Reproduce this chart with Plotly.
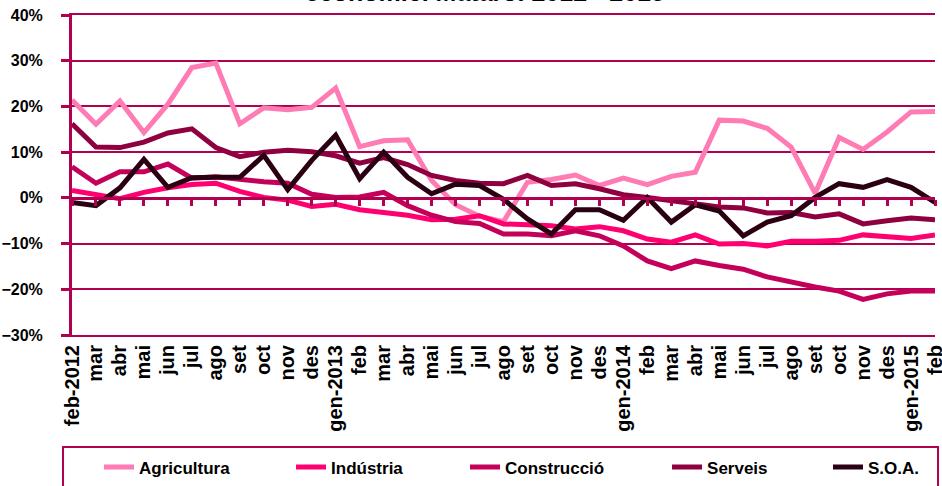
import plotly.graph_objects as go

# month labels feb-2012 .. feb-2015
months = ["feb-2012", "mar", "abr", "mai", "jun", "jul", "ago", "set", "oct", "nov", "des",
          "gen-2013", "feb", "mar", "abr", "mai", "jun", "jul", "ago", "set", "oct", "nov", "des",
          "gen-2014", "feb", "mar", "abr", "mai", "jun", "jul", "ago", "set", "oct", "nov", "des",
          "gen-2015", "feb"]
x_idx = list(range(len(months)))

agricultura = [21.4, 16.1, 21.2, 14.3, 20.5, 28.5, 29.5, 16.2, 19.7, 19.3, 19.8, 24.0, 11.2,
               12.5, 12.7, 3.8, -1.5, -4.0, -5.2, 3.4, 4.0, 5.0, 2.7, 4.3, 2.9, 4.7, 5.6,
               17.0, 16.8, 15.2, 11.1, 1.0, 13.2, 10.6, 14.4, 18.8, 18.9]
industria = [1.6, 0.7, -0.2, 1.2, 2.2, 2.9, 3.2, 1.4, 0.1, -0.5, -1.9, -1.4, -2.6,
             -3.2, -3.8, -4.8, -4.7, -3.9, -5.7, -5.9, -6.1, -6.8, -6.3, -7.2, -9.0, -9.7, -8.1,
             -10.1, -10.0, -10.5, -9.5, -9.5, -9.3, -8.1, -8.6, -8.9, -8.1]
construccio = [6.8, 3.2, 5.7, 5.7, 7.4, 4.3, 4.6, 4.0, 3.5, 3.2, 0.8, 0.1, 0.2,
               1.2, -1.7, -3.8, -5.2, -5.6, -7.9, -7.9, -8.3, -7.2, -8.3, -10.5, -13.8, -15.5, -13.8,
               -14.8, -15.6, -17.3, -18.5, -19.5, -20.4, -22.2, -21.0, -20.4, -20.4]
serveis = [16.2, 11.1, 11.0, 12.2, 14.2, 15.1, 11.0, 9.0, 10.0, 10.4, 10.1, 9.2, 7.6,
           8.8, 7.3, 4.9, 3.8, 3.2, 3.1, 4.9, 2.7, 3.1, 2.0, 0.7, 0.1, -0.6, -1.2,
           -2.0, -2.2, -3.3, -3.2, -4.2, -3.5, -5.7, -5.0, -4.4, -4.8]
soa = [-1.0, -1.7, 2.2, 8.4, 2.3, 4.4, 4.5, 4.5, 9.3, 1.8, 8.2, 13.7, 4.2,
       10.0, 4.5, 0.9, 3.0, 2.7, -0.3, -4.6, -7.9, -2.6, -2.6, -4.9, 0.1, -5.3, -1.5,
       -2.9, -8.3, -5.3, -3.9, 0.1, 3.1, 2.3, 4.0, 2.3, -1.0]

series = [
    ("Agricultura", agricultura, "#ff7bb4"),
    ("Indústria", industria, "#ff0070"),
    ("Construcció", construccio, "#c4005a"),
    ("Serveis", serveis, "#8e003f"),
    ("S.O.A.", soa, "#2a0012"),
]
# one legend per series so each entry sits where the original puts it
legend_x = [0.0313, 0.2538, 0.4554, 0.6895, 0.8760]

axis_color = "#b0004f"
font_family = "Liberation Sans, Arial, sans-serif"

fig = go.Figure()
legends = {}
for i, (name, vals, color) in enumerate(series):
    key = "legend" if i == 0 else f"legend{i + 1}"
    fig.add_trace(go.Scatter(x=x_idx, y=vals, name=name, mode="lines", legend=key,
                             line=dict(color=color, width=5)))
    legends[key] = dict(orientation="h", x=legend_x[i], xanchor="left",
                        y=-0.358, yanchor="top", borderwidth=0,
                        bgcolor="rgba(0,0,0,0)",
                        font=dict(size=17, weight="bold", family=font_family))

# invisible helper trace so the zero-crossing axis gets drawn
fig.add_trace(go.Scatter(x=x_idx, y=soa, xaxis="x2", mode="lines",
                         line=dict(width=0), showlegend=False, hoverinfo="skip"))

fig.update_layout(
    width=942, height=486,
    margin=dict(l=72, r=7, t=15, b=151, autoexpand=False),
    plot_bgcolor="white", paper_bgcolor="white",
    font=dict(family=font_family, color="black"),
    showlegend=True,
    xaxis=dict(range=[0, 36], tickmode="array", tickvals=x_idx, ticktext=months,
               tickangle=-90, showgrid=False, zeroline=False,
               showline=True, mirror=True, linecolor=axis_color, linewidth=2, ticks="",
               automargin=False, ticklabeloverflow="allow",
               tickfont=dict(size=20, weight="bold")),
    xaxis2=dict(range=[0, 36], overlaying="x", anchor="free", position=3 / 7,
                tickmode="array", tickvals=x_idx, showticklabels=False,
                showgrid=False, zeroline=False, showline=True, automargin=False,
                linecolor=axis_color, linewidth=3,
                ticks="outside", ticklen=6, tickwidth=3, tickcolor=axis_color),
    yaxis=dict(range=[-30, 40], dtick=10, ticksuffix="%",
               showgrid=True, gridcolor=axis_color, gridwidth=2,
               zeroline=False, showline=True, linecolor=axis_color, linewidth=3,
               ticks="outside", ticklen=8, tickwidth=3, tickcolor=axis_color,
               ticklabelstandoff=15, automargin=False, ticklabeloverflow="allow",
               tickfont=dict(size=16, weight="bold")),
    **legends,
)

# legend frame spanning the chart width, bottom edge runs off the image
fig.add_shape(type="rect", xref="paper", yref="paper",
              x0=-0.0104, x1=1.0035, y0=-0.35, y1=-0.6,
              line=dict(color=axis_color, width=2), fillcolor="rgba(0,0,0,0)")

# title, mostly cut off by the top edge as in the source image
fig.add_annotation(text="econòmic. Mataró. 2012 - 2015", xref="paper", yref="paper",
                   x=0.478, y=1, xanchor="center", yanchor="bottom", yshift=7,
                   showarrow=False, font=dict(size=25, weight="bold", color="black"))

# drop the default body margin so the figure sits at the page corner
fig.write_html("out.html", config={"displayModeBar": False},
               post_script="document.body.style.margin = '0';")
